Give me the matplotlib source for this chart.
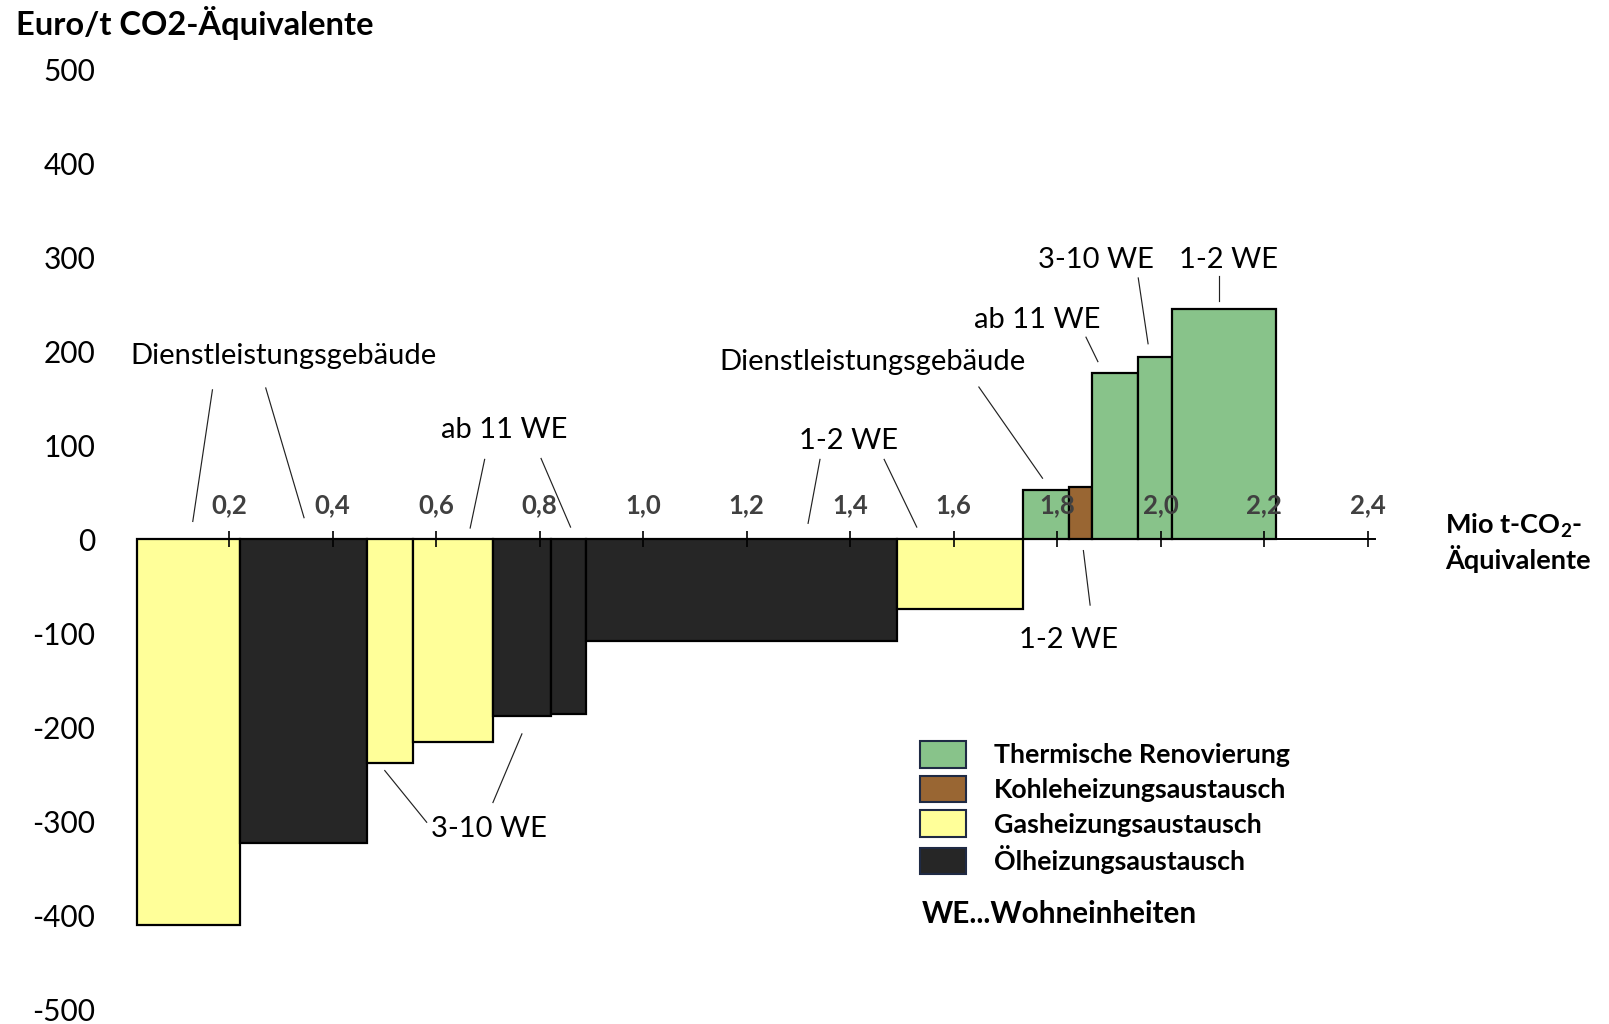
"""Grenzvermeidungskostenkurve für Heizungstausch und thermische Renovierung."""

import numpy as np
import matplotlib
matplotlib.use("Agg")
from matplotlib import pyplot as plt
from matplotlib.patches import Patch

plt.rcParams["font.family"] = ["Lato", "DejaVu Sans"]
plt.rcParams["mathtext.fontset"] = "custom"
plt.rcParams["mathtext.rm"] = "Lato:bold"
plt.rcParams["mathtext.default"] = "rm"
plt.rcParams["axes.unicode_minus"] = False

# Daten: Balkenbreite = Einsparung (Mio t CO2-Äq.), Höhe = Kosten (Euro/t)
start = 0.022
widths = [0.199, 0.246, 0.089, 0.155, 0.112, 0.066, 0.601, 0.244,
          0.089, 0.044, 0.089, 0.067, 0.200]
costs = [-410, -323, -238, -216, -188, -186, -108, -74,
         52, 56, 177, 194, 245]
kinds = [2, 3, 2, 2, 3, 3, 3, 2, 0, 1, 0, 0, 0]

categories = ["Thermische Renovierung", "Kohleheizungsaustausch",
              "Gasheizungsaustausch", "Ölheizungsaustausch"]
colors = ["#88c38a", "#996633", "#ffff99", "#262626"]

xticks = [0.2, 0.4, 0.6, 0.8, 1.0, 1.2, 1.4, 1.6, 1.8, 2.0, 2.2, 2.4]
xtick_labels = ["0,2", "0,4", "0,6", "0,8", "1,0", "1,2", "1,4",
                "1,6", "1,8", "2,0", "2,2", "2,4"]
yticks = [-500, -400, -300, -200, -100, 0, 100, 200, 300, 400, 500]

# Beschriftungen mit Hinweislinien (Text, x, y, Linien)
notes = [
    ("Dienstleistungsgebäude", 0.306, 187,
     [((0.168, 159), (0.130, 19)), ((0.271, 161), (0.345, 23))]),
    ("ab 11 WE", 0.732, 108,
     [((0.694, 85), (0.666, 12)), ((0.803, 86), (0.860, 13))]),
    ("1-2 WE", 1.398, 96,
     [((1.342, 85), (1.319, 17)), ((1.466, 85), (1.529, 13))]),
    ("Dienstleistungsgebäude", 1.4435, 180, [((1.649, 162), (1.772, 65))]),
    ("ab 11 WE", 1.762, 224.5, [((1.856, 215), (1.879, 189))]),
    ("3-10 WE", 1.876, 289, [((1.957, 278), (1.976, 208))]),
    ("1-2 WE", 2.132, 289, [((2.113, 280), (2.113, 253))]),
    ("1-2 WE", 1.823, -116, [((1.851, -12), (1.864, -70))]),
    ("3-10 WE", 0.702, -317,
     [((0.501, -246), (0.582, -301)), ((0.766, -207), (0.710, -280))]),
]

W, H = 1609, 1024
fig = plt.figure(figsize=(W / 100, H / 100), dpi=100)
ax = fig.add_axes([125.5 / W, 0, 1345.5 / W, 1])
ax.set_xlim(0, 2.6)
ax.set_ylim(-515.6, 573.7)

lefts = start + np.concatenate([[0], np.cumsum(widths)[:-1]])
ax.bar(lefts, costs, width=widths, align="edge",
       color=[colors[k] for k in kinds], edgecolor="black", linewidth=1.6,
       zorder=1)

# Achsen
for side in ["left", "right", "bottom"]:
    ax.spines[side].set_visible(False)
ax.spines["top"].set_position(("data", 0))
ax.spines["top"].set_bounds(start, 2.415)
ax.spines["top"].set_linewidth(1.4)
ax.xaxis.set_ticks_position("top")
ax.set_xticks(xticks, xtick_labels, fontweight="bold")
ax.tick_params(axis="x", direction="inout", length=12, width=1.2,
               pad=10, labelsize=18.5, labelcolor="#404040")
ax.set_yticks(yticks)
ax.tick_params(axis="y", length=0, pad=21.6, labelsize=21.5)

for text, x, y, lines in notes:
    ax.text(x, y, text, ha="center", va="baseline", fontsize=21)
    for (x1, y1), (x2, y2) in lines:
        ax.plot([x1, x2], [y1, y2], color="#222222", linewidth=0.85)

fig.text(15.5 / W, 1 - 34.5 / H, "Euro/t CO2-Äquivalente",
         fontsize=23.5, fontweight="bold", va="baseline")
fig.text(1445 / W, 1 - 533.3 / H, "Mio t-CO$_2$-",
         fontsize=19.5, fontweight="bold", va="baseline")
fig.text(1445 / W, 1 - 569.3 / H, "Äquivalente",
         fontsize=19.5, fontweight="bold", va="baseline")

handles = [Patch(facecolor=c, edgecolor="#1f2a44", linewidth=1.5, label=n)
           for n, c in zip(categories, colors)]
fig.legend(handles=handles, loc="upper left",
           bbox_to_anchor=(920 / W, 1 - 741 / H), frameon=False,
           prop={"weight": "bold", "size": 19.3}, handlelength=1.7,
           handleheight=1.15, handletextpad=1.05, labelspacing=0.3,
           borderpad=0, borderaxespad=0)
fig.text(922 / W, 1 - 923.3 / H, "WE...Wohneinheiten",
         fontsize=21.4, fontweight="bold", va="baseline")

fig.savefig("out.png", dpi=100)
